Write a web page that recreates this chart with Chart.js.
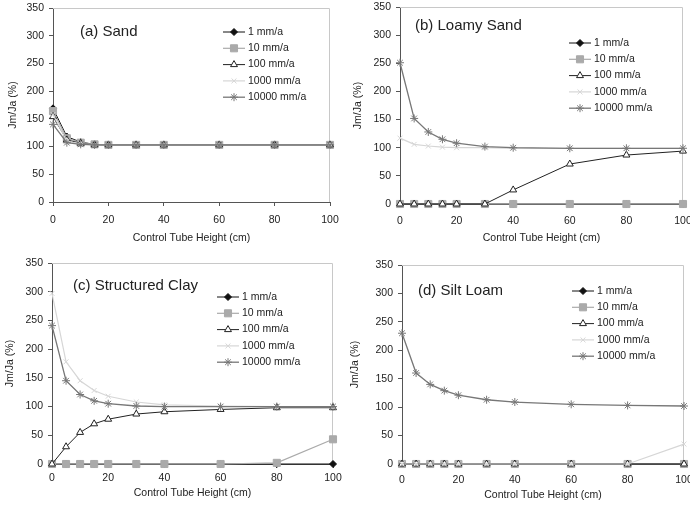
<!DOCTYPE html>
<html>
<head>
<meta charset="utf-8">
<script src="https://cdn.jsdelivr.net/npm/chart.js@4.4.0/dist/chart.umd.min.js"></script>
<style>
  body { margin: 0; background: #fff; }
  #grade { position: relative; width: 690px; height: 506px; overflow: hidden; }
  .painel { position: absolute; width: 345px; height: 253px; }
</style>
</head>
<body>
<div id="grade">
  <canvas class="painel" id="g0" width="345" height="253" style="left:0;top:0"></canvas>
  <canvas class="painel" id="g1" width="345" height="253" style="left:345px;top:0"></canvas>
  <canvas class="painel" id="g2" width="345" height="253" style="left:0;top:253px"></canvas>
  <canvas class="painel" id="g3" width="345" height="253" style="left:345px;top:253px"></canvas>
</div>
<script>
// eixo x: altura do tubo de controle (cm)
const heights = [0, 5, 10, 15, 20, 30, 40, 60, 80, 100]
const seriesNames = ['1 mm/a', '10 mm/a', '100 mm/a', '1000 mm/a', '10000 mm/a']
const panelTitles = ['(a) Sand', '(b) Loamy Sand', '(c) Structured Clay', '(d) Silt Loam']
const xTicks = [0, 20, 40, 60, 80, 100]
const yTicks = [0, 50, 100, 150, 200, 250, 300, 350]

// Jm/Ja (%) - uma linha por serie (1, 10, 100, 1000, 10000 mm/a)
const sand = [
    [169, 118, 108, 104, 103, 103, 103, 103, 103, 103],
    [164, 115, 107, 104, 103, 103, 103, 103, 103, 103],
    [154, 112, 106, 103, 103, 103, 103, 103, 103, 103],
    [158, 110, 105, 103, 103, 103, 103, 103, 103, 103],
    [140, 107, 104, 103, 103, 103, 103, 103, 103, 103]
]
const loamySand = [
    [0, 0, 0, 0, 0, 0, 0, 0, 0, 0],
    [0, 0, 0, 0, 0, 0, 0, 0, 0, 0],
    [0, 0, 0, 0, 0, 0, 25, 71, 87, 94],
    [117, 106, 103, 101, 100, 100, 99, 99, 99, 99],
    [251, 152, 128, 115, 108, 102, 100, 99, 99, 99]
]
const structuredClay = [
    [0, 0, 0, 0, 0, 0, 0, 0, 0, 0],
    [0, 0, 0, 0, 0, 0, 0, 0, 2, 43],
    [0, 30, 55, 70, 78, 87, 91, 95, 98, 98],
    [297, 178, 145, 128, 118, 108, 103, 101, 100, 100],
    [241, 145, 121, 110, 105, 101, 100, 100, 100, 100]
]
const siltLoam = [
    [0, 0, 0, 0, 0, 0, 0, 0, 0, 0],
    [0, 0, 0, 0, 0, 0, 0, 0, 0, 0],
    [0, 0, 0, 0, 0, 0, 0, 0, 0, 0],
    [0, 0, 0, 0, 0, 0, 0, 0, 0, 35],
    [230, 160, 140, 129, 121, 113, 109, 105, 103, 102]
]
const paineis = [sand, loamySand, structuredClay, siltLoam]

const fonte = '"Liberation Sans", Arial, sans-serif'
const corTexto = '#222'

const estilos = [
    { cor: '#111', fundo: '#111', ponto: 'rectRot', raio: 3.5, largura: 1 },
    { cor: '#aaa', fundo: '#aaa', ponto: 'rect', raio: 5, largura: 1.2 },
    { cor: '#222', fundo: '#fff', ponto: 'triangle', raio: 4, largura: 1 },
    { cor: '#d6d6d6', fundo: '#d6d6d6', ponto: 'crossRot', raio: 3.5, largura: 1.2 },
    { cor: '#777', fundo: '#777', ponto: 'star', raio: 4, largura: 1.3 }
]

// posicoes de cada painel (px dentro do canvas)
const layouts = [
    { esq: 53, topo: 8, dir: 15, base: 51, tickPad: 8, yTit: 6.7, xTit: 8.7, titulo: [80, 32], legenda: [223, 32] },
    { esq: 55, topo: 7, dir: 7, base: 49, tickPad: 7, yTit: 6.7, xTit: 8.7, titulo: [70, 26], legenda: [224, 43] },
    { esq: 52, topo: 10, dir: 12, base: 42, tickPad: 4, yTit: 3.7, xTit: 6.7, titulo: [73, 33], legenda: [217, 44] },
    { esq: 57, topo: 12, dir: 5, base: 42, tickPad: 6, yTit: 3.7, xTit: 5, titulo: [73, 38], legenda: [227, 38] }
]

const bordaGrafico = {
    id: 'bordaGrafico',
    beforeDatasetsDraw(chart) {
        const { ctx, chartArea: a } = chart
        ctx.save()
        ctx.strokeStyle = '#c8c8c8'
        ctx.lineWidth = 1
        ctx.beginPath()
        ctx.moveTo(a.left, a.top + 0.5)
        ctx.lineTo(a.right - 0.5, a.top + 0.5)
        ctx.lineTo(a.right - 0.5, a.bottom)
        ctx.stroke()
        ctx.restore()
    }
}

const legendaInterna = {
    id: 'legendaInterna',
    afterDraw(chart, args, opts) {
        const { ctx } = chart
        ctx.save()
        ctx.textBaseline = 'middle'
        ctx.fillStyle = corTexto
        ctx.font = '15px ' + fonte
        ctx.fillText(opts.titulo, opts.tituloX, opts.tituloY)

        ctx.font = '10.5px ' + fonte
        chart.data.datasets.forEach((ds, i) => {
            const y = opts.y + i * 16.3
            ctx.strokeStyle = ds.borderColor
            ctx.lineWidth = ds.borderWidth
            ctx.beginPath()
            ctx.moveTo(opts.x, y)
            ctx.lineTo(opts.x + 22, y)
            ctx.stroke()

            ctx.fillStyle = ds.pointBackgroundColor
            ctx.strokeStyle = ds.pointBorderColor
            ctx.lineWidth = 1
            Chart.helpers.drawPoint(ctx, { pointStyle: ds.pointStyle, radius: ds.pointRadius, rotation: 0, borderWidth: 1 }, opts.x + 11, y)

            ctx.fillStyle = corTexto
            ctx.fillText(ds.label, opts.x + 25, y)
        })
        ctx.restore()
    }
}

function criarPainel(idx) {
    const L = layouts[idx]
    const valores = paineis[idx]

    const datasets = seriesNames.map((nome, i) => ({
        label: nome,
        data: heights.map((h, k) => ({ x: h, y: valores[i][k] })),
        borderColor: estilos[i].cor,
        borderWidth: estilos[i].largura,
        pointStyle: estilos[i].ponto,
        pointRadius: estilos[i].raio,
        pointBackgroundColor: estilos[i].fundo,
        pointBorderColor: estilos[i].cor,
        pointBorderWidth: 1,
        tension: 0,
        fill: false,
        clip: false,
        order: seriesNames.length - i
    }))

    new Chart(document.getElementById('g' + idx), {
        type: 'line',
        data: { datasets },
        plugins: [bordaGrafico, legendaInterna],
        options: {
            responsive: false,
            animation: false,
            devicePixelRatio: 1,
            events: [],
            layout: { padding: { left: 0, top: L.topo, right: L.dir, bottom: 0 } },
            scales: {
                x: {
                    type: 'linear',
                    min: xTicks[0],
                    max: xTicks[xTicks.length - 1],
                    afterBuildTicks: s => { s.ticks = xTicks.map(v => ({ value: v })) },
                    afterFit: s => { s.height = L.base; s.paddingLeft = 0; s.paddingRight = 0 },
                    grid: { drawOnChartArea: false, drawTicks: true, tickLength: 4, color: '#555' },
                    border: { color: '#555', width: 1 },
                    ticks: { font: { family: fonte, size: 10.5 }, color: corTexto, padding: L.tickPad, maxRotation: 0, autoSkip: false },
                    title: {
                        display: true,
                        text: 'Control Tube Height (cm)',
                        font: { family: fonte, size: 10.5 },
                        color: corTexto,
                        padding: { top: 0, bottom: L.xTit }
                    }
                },
                y: {
                    type: 'linear',
                    min: yTicks[0],
                    max: yTicks[yTicks.length - 1],
                    afterBuildTicks: s => { s.ticks = yTicks.map(v => ({ value: v })) },
                    afterFit: s => { s.width = L.esq; s.paddingTop = 0; s.paddingBottom = 0 },
                    grid: { drawOnChartArea: false, drawTicks: true, tickLength: 4, color: '#555' },
                    border: { color: '#555', width: 1 },
                    ticks: { font: { family: fonte, size: 10.5 }, color: corTexto, padding: 5 },
                    title: {
                        display: true,
                        text: 'Jm/Ja (%)',
                        font: { family: fonte, size: 10.5 },
                        color: corTexto,
                        padding: { top: L.yTit, bottom: 0 }
                    }
                }
            },
            plugins: {
                legend: { display: false },
                tooltip: { enabled: false },
                legendaInterna: {
                    titulo: panelTitles[idx],
                    tituloX: L.titulo[0],
                    tituloY: L.titulo[1],
                    x: L.legenda[0],
                    y: L.legenda[1]
                }
            }
        }
    })
}

paineis.forEach((p, i) => criarPainel(i))
</script>
</body>
</html>
